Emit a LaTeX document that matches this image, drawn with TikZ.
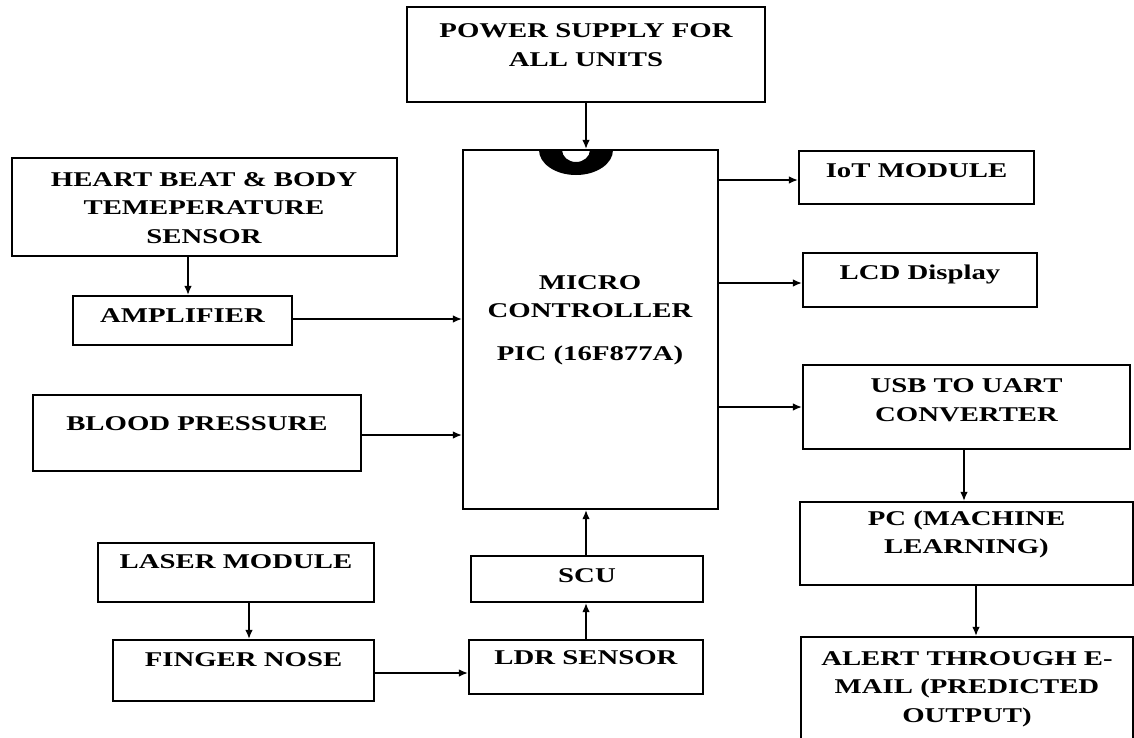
\documentclass[tikz,border=0pt]{standalone}
\usepackage{fontspec}
\setmainfont{Liberation Serif}[FakeStretch=1.37]
\usetikzlibrary{arrows.meta,positioning}

\tikzset{
  blk/.style={draw=black, line width=2.4pt, fill=white, inner sep=0pt},
  lbl/.style={font=\fontsize{21}{28.5}\selectfont\bfseries, align=center, inner sep=0pt},
  flow/.style={-{Latex[length=9pt,width=7.5pt]}, line width=1.2pt},
}

\begin{document}
\begin{tikzpicture}[x=1pt, y=-1pt]

  \clip (0,0) rectangle (1134,737);
  \fill[white] (0,0) rectangle (1134,737);

  % --- Power supply and micro controller ---
  \node[blk, minimum width=358pt, minimum height=95pt] (power) at (586,54.5) {};
  \node[lbl] (power-t) at (586,45) {POWER SUPPLY FOR\\ALL UNITS};

  \node[blk, minimum width=255pt, minimum height=359pt] (mcu) at (590.5,329.5) {};
  \node[lbl] (mcu-t) at (590,320) {MICRO\\CONTROLLER\\[14pt]PIC (16F877A)};
  % notch of the chip
  \fill[even odd rule] (539,150) arc[start angle=180, end angle=0, x radius=37, y radius=25]
    -- (590,150) arc[start angle=0, end angle=180, x radius=14, y radius=12] -- cycle;

  % --- Sensors (left) ---
  \node[blk, minimum width=385pt, minimum height=98pt] (heart) at (204.5,207) {};
  \node[lbl] (heart-t) at (204,208) {HEART BEAT \& BODY\\TEMEPERATURE\\SENSOR};

  \node[blk, minimum width=219pt, minimum height=49pt] (amp) at (182.5,320.5) {};
  \node[lbl] (amp-t) at (182.5,316) {AMPLIFIER};

  \node[blk, minimum width=328pt, minimum height=76pt] (bp) at (197,433) {};
  \node[lbl] (bp-t) at (197,424) {BLOOD PRESSURE};

  \node[blk, minimum width=276pt, minimum height=59pt] (laser) at (236,572.5) {};
  \node[lbl] (laser-t) at (236,562) {LASER MODULE};

  \node[blk, minimum width=261pt, minimum height=61pt] (finger) at (243.5,670.5) {};
  \node[lbl] (finger-t) at (243.5,660) {FINGER NOSE};

  \node[blk, minimum width=232pt, minimum height=46pt] (scu) at (587,579) {};
  \node[lbl] (scu-t) at (587,576) {SCU};

  \node[blk, minimum width=234pt, minimum height=54pt] (ldr) at (586,667) {};
  \node[lbl] (ldr-t) at (586,658) {LDR SENSOR};

  % --- Outputs (right) ---
  \node[blk, minimum width=235pt, minimum height=53pt] (iot) at (916.5,177.5) {};
  \node[lbl] (iot-t) at (916.5,171) {IoT MODULE};

  \node[blk, minimum width=234pt, minimum height=54pt] (lcd) at (920,280) {};
  \node[lbl] (lcd-t) at (920,274) {LCD Display};

  \node[blk, minimum width=327pt, minimum height=84pt] (usb) at (966.5,407) {};
  \node[lbl] (usb-t) at (966.5,400) {USB TO UART\\CONVERTER};

  \node[blk, minimum width=333pt, minimum height=83pt] (pc) at (966.5,543.5) {};
  \node[lbl] (pc-t) at (966.5,534.5) {PC (MACHINE\\LEARNING)};

  \node[blk, minimum width=332pt, minimum height=140pt] (alert) at (967,707) {};
  \node[lbl] (alert-t) at (967,689) {ALERT THROUGH E-\\MAIL (PREDICTED\\OUTPUT)};

  % --- Connections ---
  \draw[flow] (power.south) -- (power.south |- mcu.north);
  \draw[flow] ([xshift=-16.5pt]heart.south) -- ([xshift=-16.5pt]heart.south |- amp.north);
  \draw[flow] ([yshift=1.5pt]amp.east) -- ([yshift=1.5pt]amp.east -| mcu.west);
  \draw[flow] ([yshift=-2pt]bp.east) -- ([yshift=-2pt]bp.east -| mcu.west);
  \draw[flow] ([xshift=13pt]laser.south) -- ([xshift=13pt]laser.south |- finger.north);
  \draw[flow] ([yshift=-2.5pt]finger.east) -- ([yshift=-2.5pt]finger.east -| ldr.west);
  \draw[flow] (ldr.north) -- (ldr.north |- scu.south);
  \draw[flow] ([xshift=-1pt]scu.north) -- ([xshift=-1pt]scu.north |- mcu.south);

  \draw[flow] ([yshift=-2.5pt]iot.west -| mcu.east) -- ([yshift=-2.5pt]iot.west);
  \draw[flow] ([yshift=-3pt]lcd.west -| mcu.east) -- ([yshift=-3pt]lcd.west);
  \draw[flow] (usb.west -| mcu.east) -- (usb.west);
  \draw[flow] ([xshift=-2.5pt]usb.south) -- ([xshift=-2.5pt]usb.south |- pc.north);
  \draw[flow] ([xshift=9.5pt]pc.south) -- ([xshift=9.5pt]pc.south |- alert.north);

\end{tikzpicture}
\end{document}
